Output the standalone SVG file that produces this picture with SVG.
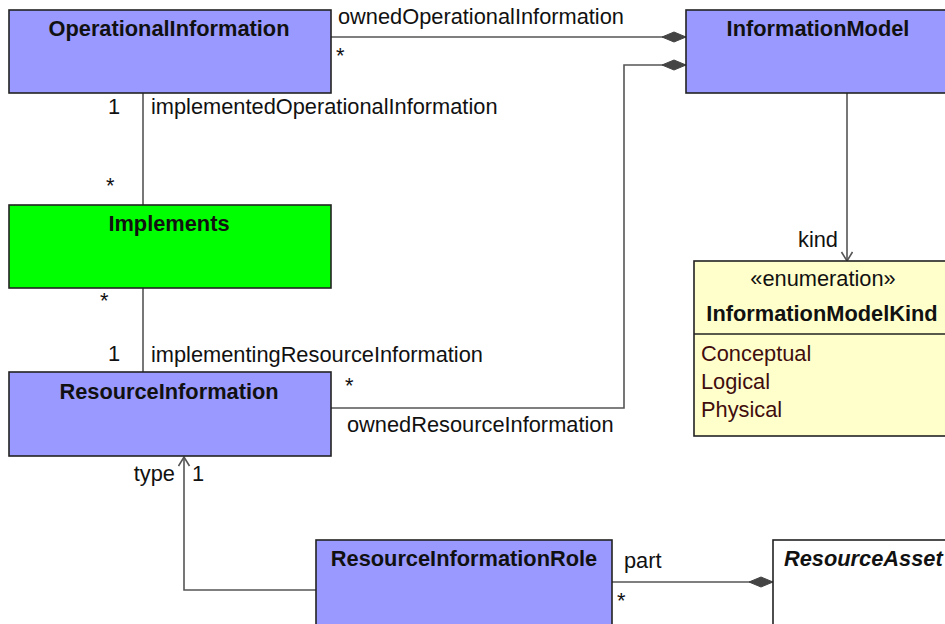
<svg xmlns="http://www.w3.org/2000/svg" width="945" height="624" viewBox="0 0 945 624">
<style>
text{font-family:"Liberation Sans",Arial,sans-serif;font-size:21.8px;fill:#111}
.t{font-weight:bold;text-anchor:middle}
.box{stroke:#222;stroke-width:1.6}
.cls{fill:#9999ff}
.ln{fill:none;stroke:#555;stroke-width:1.6}
.lit{fill:#3f0d0d}
.r{text-anchor:end}
</style>
<defs>
<marker id="dia" markerWidth="26" markerHeight="12" refX="25" refY="6" orient="auto" markerUnits="userSpaceOnUse">
<path d="M1,6 L13,1 L25,6 L13,11 Z" fill="#444" stroke="#444" stroke-width="1"/>
</marker>
<marker id="arr" markerWidth="12" markerHeight="14" refX="10" refY="6" orient="auto" markerUnits="userSpaceOnUse">
<path d="M1,0.5 L10,6 L1,11.5" fill="none" stroke="#555" stroke-width="1.6"/>
</marker>
</defs>
<g id="connectors">
<path class="ln" d="M331,37 L686,37" marker-end="url(#dia)"/>
<path class="ln" d="M331,408 L624,408 L624,65 L686,65" marker-end="url(#dia)"/>
<path class="ln" d="M143,93 L143,205"/>
<path class="ln" d="M143,288 L143,372"/>
<path class="ln" d="M847,93 L847,261" marker-end="url(#arr)"/>
<path class="ln" d="M316,590 L184,590 L184,457" marker-end="url(#arr)"/>
<path class="ln" d="M612,582 L773,582" marker-end="url(#dia)"/>
<text x="338" y="24">ownedOperationalInformation</text>
<text x="336" y="63">*</text>
<text x="345" y="393">*</text>
<text x="347" y="432">ownedResourceInformation</text>
<text x="108" y="114">1</text>
<text x="151" y="114">implementedOperationalInformation</text>
<text x="106" y="193">*</text>
<text x="100" y="308">*</text>
<text x="108" y="361">1</text>
<text x="151" y="362">implementingResourceInformation</text>
<text class="r" x="838" y="247">kind</text>
<text class="r" x="175" y="481">type</text>
<text x="192" y="481">1</text>
<text x="624" y="568">part</text>
<text x="617" y="608">*</text>
</g>
<g id="OperationalInformation">
<rect class="box cls" x="9" y="10" width="322" height="83"/>
<text class="t" x="169" y="36">OperationalInformation</text>
</g>
<g id="InformationModel">
<rect class="box cls" x="686" y="10" width="264" height="83"/>
<text class="t" x="818" y="36">InformationModel</text>
</g>
<g id="Implements">
<rect class="box" fill="#00ff00" x="9" y="205" width="322" height="83"/>
<text class="t" x="169" y="231">Implements</text>
</g>
<g id="ResourceInformation">
<rect class="box cls" x="9" y="372" width="322" height="84"/>
<text class="t" x="169" y="399">ResourceInformation</text>
</g>
<g id="InformationModelKind">
<rect class="box" fill="#ffffcc" x="694" y="261" width="258" height="175"/>
<line class="box" x1="694" y1="334" x2="952" y2="334"/>
<text x="823" y="286" text-anchor="middle">«enumeration»</text>
<text class="t" x="822" y="321">InformationModelKind</text>
<text class="lit" x="701" y="361">Conceptual</text>
<text class="lit" x="701" y="389">Logical</text>
<text class="lit" x="701" y="417">Physical</text>
</g>
<g id="ResourceInformationRole">
<rect class="box cls" x="316" y="540" width="296" height="100"/>
<text class="t" x="464" y="566">ResourceInformationRole</text>
</g>
<g id="ResourceAsset">
<rect class="box" fill="#ffffff" x="773" y="540" width="180" height="100"/>
<text x="784" y="566" font-weight="bold" font-style="italic">ResourceAsset</text>
</g>
</svg>
